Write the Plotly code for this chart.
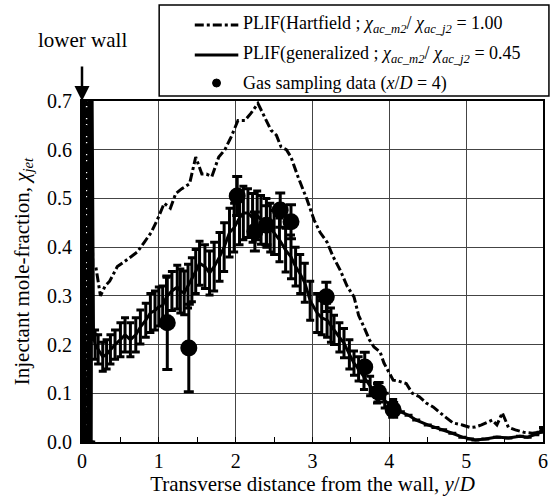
import plotly.graph_objects as go

# ---------------- data ----------------
hart_x = [0.05, 0.06, 0.07, 0.11, 0.14, 0.18, 0.24, 0.30, 0.36, 0.46, 0.55, 0.63, 0.72, 0.81,
          0.90, 0.98, 1.07, 1.15, 1.22, 1.30, 1.40, 1.48, 1.56, 1.62, 1.69, 1.78, 1.86, 1.94,
          2.03, 2.12, 2.20, 2.29, 2.38, 2.46, 2.53, 2.59, 2.66, 2.72, 2.81, 2.93, 3.02, 3.10,
          3.19, 3.27, 3.36, 3.45, 3.54, 3.60, 3.67, 3.74, 3.80, 3.88, 3.93, 4.00, 4.05, 4.12,
          4.22, 4.30, 4.39, 4.48, 4.57, 4.70, 4.83, 4.95, 5.05, 5.12, 5.20, 5.34, 5.40, 5.47,
          5.55, 5.64, 5.75, 5.86, 5.95, 6.00]
hart_y = [0.00, 0.75, 0.00, 0.75, 0.36, 0.36, 0.30, 0.32, 0.33, 0.36, 0.37, 0.38, 0.39, 0.41,
          0.43, 0.456, 0.49, 0.48, 0.51, 0.52, 0.53, 0.585, 0.55, 0.55, 0.545, 0.585, 0.60, 0.626,
          0.66, 0.66, 0.675, 0.695, 0.667, 0.64, 0.63, 0.606, 0.60, 0.585, 0.545, 0.497, 0.456, 0.43,
          0.41, 0.38, 0.353, 0.32, 0.298, 0.26, 0.236, 0.21, 0.195, 0.185, 0.162, 0.14, 0.127, 0.125,
          0.12, 0.10, 0.093, 0.08, 0.072, 0.055, 0.039, 0.035, 0.03, 0.031, 0.035, 0.045, 0.035, 0.06,
          0.03, 0.025, 0.02, 0.018, 0.02, 0.03]

gen_x = [0.00, 0.01, 0.02, 0.03, 0.04, 0.08, 0.09, 0.10, 0.11, 0.12, 0.13, 0.15, 0.17, 0.21,
         0.27, 0.32, 0.37, 0.43, 0.50, 0.56, 0.63, 0.70, 0.76, 0.83, 0.89, 0.95, 1.00, 1.05,
         1.10, 1.17, 1.24, 1.28, 1.33, 1.38, 1.43, 1.48, 1.53, 1.60, 1.66, 1.72, 1.79, 1.85,
         1.92, 1.98, 2.05, 2.10, 2.16, 2.22, 2.28, 2.33, 2.40, 2.45, 2.50, 2.57, 2.65, 2.72,
         2.78, 2.84, 2.90, 2.97, 3.06, 3.12, 3.19, 3.24, 3.28, 3.35, 3.41, 3.48, 3.54, 3.60,
         3.67, 3.75, 3.84, 3.94, 4.05, 4.15, 4.25, 4.35, 4.50, 4.60, 4.70, 4.82, 4.95, 5.05,
         5.12, 5.25, 5.40, 5.55, 5.70, 5.80, 5.90, 5.97, 6.00]
gen_y = [0.00, 0.75, 0.00, 0.75, 0.00, 0.00, 0.75, 0.00, 0.75, 0.00, 0.75, 0.22, 0.20, 0.19,
         0.175, 0.18, 0.19, 0.20, 0.21, 0.22, 0.21, 0.22, 0.236, 0.25, 0.265, 0.27, 0.278, 0.28,
         0.298, 0.31, 0.318, 0.31, 0.306, 0.32, 0.333, 0.35, 0.367, 0.36, 0.347, 0.36, 0.38, 0.40,
         0.43, 0.44, 0.46, 0.47, 0.47, 0.46, 0.465, 0.456, 0.45, 0.44, 0.43, 0.415, 0.394, 0.38,
         0.36, 0.345, 0.327, 0.29, 0.265, 0.255, 0.25, 0.24, 0.23, 0.215, 0.203, 0.18, 0.162, 0.15,
         0.133, 0.115, 0.10, 0.085, 0.072, 0.062, 0.055, 0.045, 0.035, 0.03, 0.025, 0.018, 0.01, 0.006,
         0.004, 0.006, 0.01, 0.008, 0.012, 0.01, 0.015, 0.02, 0.03]
gen_err = [0, 0, 0, 0, 0, 0, 0, 0, 0, 0, 0, 0, 0.03, 0.03,
           0.03, 0.03, 0.03, 0.03, 0.035, 0.035, 0.035, 0.035, 0.035, 0.035, 0.04, 0.04, 0.04, 0.04,
           0.04, 0.04, 0.045, 0.045, 0.045, 0.045, 0.045, 0.045, 0.045, 0.045, 0.045, 0.05, 0.05, 0.05,
           0.05, 0.05, 0.055, 0.055, 0.05, 0.05, 0.05, 0.05, 0.05, 0.05, 0.045, 0.045, 0.045, 0.045,
           0.04, 0.04, 0.04, 0.04, 0.04, 0.035, 0.035, 0.035, 0.03, 0.03, 0.03, 0.03, 0.025, 0.025,
           0.025, 0.02, 0.02, 0.015, 0.015, 0, 0, 0, 0, 0, 0, 0, 0, 0,
           0, 0, 0, 0, 0, 0, 0, 0, 0]

gas_x = [1.11, 1.39, 2.02, 2.25, 2.40, 2.58, 2.72, 3.18, 3.68, 3.86, 4.05]
gas_y = [0.245, 0.193, 0.505, 0.432, 0.445, 0.476, 0.452, 0.298, 0.154, 0.102, 0.066]
gas_err = [0.096, 0.09, 0.04, 0.04, 0.04, 0.035, 0.035, 0.03, 0.03, 0.02, 0.015]

x_ticks = [0, 1, 2, 3, 4, 5, 6]
y_ticks = [0.0, 0.1, 0.2, 0.3, 0.4, 0.5, 0.6, 0.7]

legend_labels = [
    "PLIF(Hartfield ; <i>χ<sub>ac_m2</sub></i>/ <i>χ<sub>ac_j2</sub></i> = 1.00",
    "PLIF(generalized ; <i>χ<sub>ac_m2</sub></i>/ <i>χ<sub>ac_j2</sub></i> = 0.45",
    "Gas sampling data (<i>x</i>/<i>D</i> = 4)",
]

FONT = "Times New Roman"

fig = go.Figure()
fig.add_trace(go.Scatter(x=hart_x, y=hart_y, mode="lines", name=legend_labels[0],
                         line=dict(color="black", width=3, dash="dashdot"), showlegend=False))
fig.add_trace(go.Scatter(x=gen_x, y=gen_y, mode="lines", name=legend_labels[1],
                         line=dict(color="black", width=3),
                         error_y=dict(type="data", array=gen_err, visible=True,
                                      color="black", thickness=3, width=4),
                         showlegend=False))
fig.add_trace(go.Scatter(x=gas_x, y=gas_y, mode="markers", name=legend_labels[2],
                         marker=dict(color="black", size=17, symbol="circle"),
                         error_y=dict(type="data", array=gas_err, visible=True,
                                      color="black", thickness=3, width=5),
                         showlegend=False))

# plot area in pixels: x 82..548, y 101..442
L, R, T, B = 82, 8, 101, 58
W, H = 556, 500
pw, ph = W - L - R, H - T - B


def px(xp):
    return (xp - L) / pw


def py(yp):
    return (H - B - yp) / ph


# manual legend box
shapes = [
    dict(type="rect", xref="paper", yref="paper", x0=px(160), x1=px(554), y0=py(96), y1=py(5),
         line=dict(color="black", width=1.5), fillcolor="white"),
    dict(type="line", xref="paper", yref="paper", x0=px(196), x1=px(240), y0=py(25), y1=py(25),
         line=dict(color="black", width=3, dash="dashdot")),
    dict(type="line", xref="paper", yref="paper", x0=px(196), x1=px(240), y0=py(55), y1=py(55),
         line=dict(color="black", width=3)),
    dict(type="circle", xref="paper", yref="paper", x0=px(214), x1=px(222), y0=py(87), y1=py(79),
         line=dict(color="black", width=1), fillcolor="black"),
]

annotations = []
for lab, yy in zip(legend_labels, [25, 55, 83]):
    annotations.append(dict(text=lab, xref="paper", yref="paper", x=px(243), y=py(yy),
                            xanchor="left", yanchor="middle", showarrow=False,
                            font=dict(family=FONT, size=18, color="black")))
annotations.append(dict(text="lower wall", xref="x", yref="paper", x=0, y=py(40),
                        xanchor="center", yanchor="middle", showarrow=False,
                        font=dict(family=FONT, size=21, color="black")))
annotations.append(dict(text="", x=0, y=0.7, xref="x", yref="y", ax=0, ay=-36,
                        showarrow=True, arrowhead=2, arrowsize=1.2, arrowwidth=2.5,
                        arrowcolor="black"))

fig.update_layout(
    width=W, height=H,
    margin=dict(l=L, r=R, t=T, b=B),
    paper_bgcolor="white", plot_bgcolor="white",
    font=dict(family=FONT, size=18, color="black"),
    shapes=shapes, annotations=annotations,
    showlegend=False,
)
fig.update_xaxes(range=[0, 6], tickvals=x_ticks, ticktext=[str(v) for v in x_ticks],
                 showgrid=True, gridcolor="#444", gridwidth=1,
                 showline=True, linecolor="black", linewidth=2, mirror=True,
                 ticks="", zeroline=False,
                 minor=dict(dtick=0.5, ticks="inside", ticklen=5, tickcolor="black", showgrid=False),
                 tickfont=dict(family=FONT, size=20),
                 title=dict(text="Transverse distance from the wall, <i>y</i>/<i>D</i>",
                            font=dict(family=FONT, size=21), standoff=2))
fig.update_yaxes(range=[0, 0.7], tickvals=y_ticks, ticktext=[f"{v:.1f}" for v in y_ticks],
                 showgrid=True, gridcolor="#444", gridwidth=1,
                 showline=True, linecolor="black", linewidth=2, mirror=True,
                 ticks="", zeroline=False, ticklabelstandoff=4,
                 minor=dict(dtick=0.05, ticks="inside", ticklen=5, tickcolor="black", showgrid=False),
                 tickfont=dict(family=FONT, size=20),
                 title=dict(text="Injectant mole-fraction, <i>χ<sub>jet</sub></i>",
                            font=dict(family=FONT, size=21), standoff=12))

fig.write_html("out.html")
